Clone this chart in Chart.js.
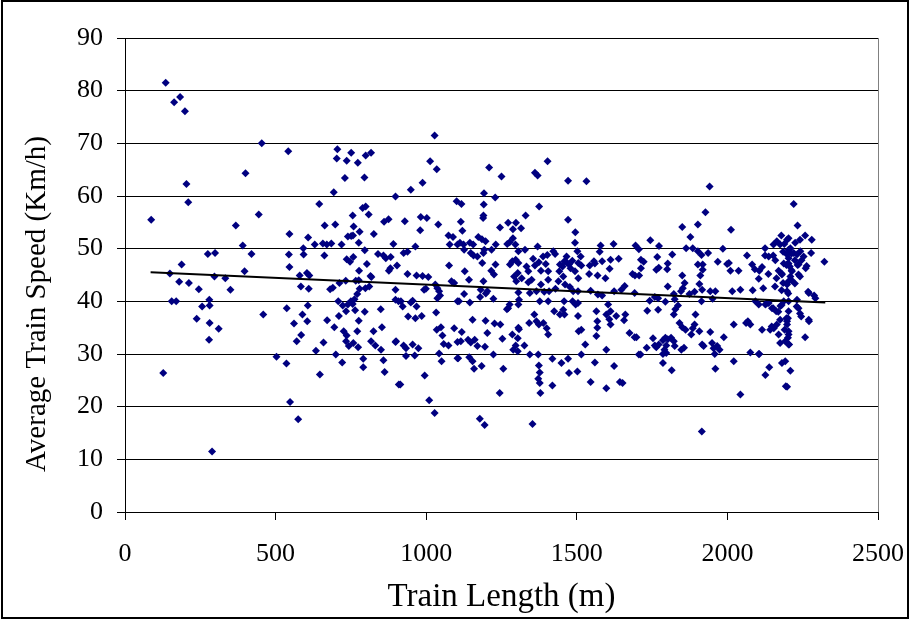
<!DOCTYPE html>
<html>
<head>
<meta charset="utf-8">
<script src="https://cdn.jsdelivr.net/npm/chart.js@4/dist/chart.umd.min.js"></script>
<style>
  html, body { margin: 0; padding: 0; background: #ffffff; }
  #wrap { width: 911px; height: 620px; position: relative; }
</style>
</head>
<body>
<div id="wrap"><canvas id="c" width="911" height="620"></canvas></div>
<script>
// Observations: [train length (m), average train speed (km/h)]
const observations = [
  [135,81.5],[183,78.8],[163,77.8],[199,76.1],[454,70],[400,64.3],[204,62.3],[210,58.8],[87,55.5],[444,56.5],
  [368,54.4],[391,50.6],[420,49],[275,49],[299,49.2],[188,47],[149,45.3],[397,45.7],[297,44.7],[333,44.4],
  [180,43.7],[212,43.5],[245,42.3],[350,42.2],[155,40],[170,40],[280,40.3],[256,39],[281,39.2],[459,37.5],
  [238,36.7],[281,35.9],[311,34.8],[279,32.7],[127,26.4],[289,11.5],
  [542,68.5],[705,68.9],[703,67.1],[693,60.7],[645,58.5],[663,54.4],[698,54.6],[546,52.8],[608,52.1],[592,50.1],
  [630,50.8],[657,51],[670,50.8],[685,51],[544,48.9],[593,48.9],[662,48.7],[546,46.5],[580,44.9],[604,45.4],
  [612,44.9],[584,42.8],[610,42.4],[681,42.3],[690,42.6],[537,38.7],[607,39.2],[589,37.5],[561,35.8],[605,36.2],
  [671,36.4],[585,33.6],[570,32.4],[659,32.2],[634,30.6],[503,29.5],[536,28.2],[647,26.1],[548,20.9],[575,17.6],
  [751,68.2],[736,66.7],[773,66.3],[799,67.7],[817,68.2],[730,63.4],[795,63.5],[898,59.9],[799,58],[789,57.7],
  [756,56.3],[809,56.5],[860,55.1],[875,55.6],[759,54.2],[779,53.2],[740,52.3],[751,52.4],[757,52.5],[826,52.8],
  [719,50.8],[776,51.1],[891,50.9],[796,49.7],[736,48],[747,47.5],[758,48.4],[840,49],[858,48.7],[866,48.2],
  [882,48.4],[803,47.1],[777,45.8],[903,46.8],[876,45.8],[881,46.3],[815,44.8],[712,43.5],[733,43.9],[766,43.9],
  [776,44],[818,44.6],[811,42.8],[798,42.5],[779,42.4],[771,41.4],[762,40.4],[756,39.5],[734,38.1],[723,39.2],
  [708,40],[740,39.4],[750,40],[710,37.2],[898,42.2],[898,40.3],[908,40],[764,38.3],[796,38],[849,38.5],
  [776,36.3],[695,35.1],[726,34.3],[736,33.5],[734,32.4],[743,31.5],[758,32.1],[774,31.3],[771,34.3],[825,34.3],
  [853,35.1],[817,32.4],[831,31.6],[850,30.8],[898,32.3],[700,29.9],[721,28.4],[791,29.1],[791,27.5],[858,28.8],
  [862,26.6],[909,24.2],
  [1028,71.5],[1013,66.6],[1035,65.1],[988,62.5],[949,61.2],[1101,59],[929,55.2],[982,56],[1002,55.8],[980,53.5],
  [1040,54.6],[1074,52.5],[1089,52.2],[1078,50.8],[1104,50.8],[925,49.2],[938,49.4],[964,50.4],[1076,46.8],[938,45.2],
  [968,44.9],[988,44.8],[1007,44.6],[1084,43.8],[1093,43.5],[999,42.4],[993,42.2],[1030,43.2],[1037,42.5],[1043,41.9],
  [1046,41.1],[1037,40.6],[1104,40],[916,40],[922,39],[949,39.8],[955,40.1],[968,39],[940,37.1],[964,36.8],
  [985,37.2],[1033,37.9],[1035,34.6],[1049,35.1],[1054,33.5],[1093,34.9],[1104,32.3],[900,32.4],[925,31.6],[933,31.1],
  [955,31.8],[974,31.1],[1058,31.9],[1074,31.6],[933,29.6],[962,29.7],[1043,30.1],[1051,28.6],[1104,29.2],[995,25.9],
  [914,24.2],[1010,21.2],[1028,18.8],
  [1209,65.4],[1250,63.7],[1192,60.5],[1229,59.7],[1117,58.5],[1191,58.4],[1190,56.3],[1189,55.8],[1115,55.1],[1120,53.4],
  [1245,54],[1272,54.9],[1298,54.9],[1288,53.7],[1112,51.1],[1124,50.8],[1145,51.1],[1156,50.8],[1173,52.2],[1185,51.8],
  [1197,51.4],[1277,51.2],[1269,50.9],[1288,52],[1296,50.8],[1126,49.8],[1148,49.2],[1157,48.7],[1170,48.5],[1190,49.2],
  [1193,49.8],[1217,49.8],[1231,50.8],[1186,47.3],[1216,45.8],[1230,47],[1225,45.1],[1278,47],[1286,47.6],[1297,47.9],
  [1306,47.3],[1292,44.7],[1299,43.8],[1128,45.7],[1142,44.1],[1190,43.8],[1203,41.9],[1198,41.5],[1179,40.8],[1181,42.2],
  [1223,40.5],[1126,41.4],[1109,40],[1145,39.8],[1154,36.5],[1197,36.3],[1227,35.8],[1246,35.6],[1272,38.7],[1268,38.5],
  [1277,39.4],[1306,41.7],[1306,39.4],[1306,35],[1118,34.2],[1115,32.4],[1139,32.7],[1148,32.2],[1161,32.7],[1170,31.5],
  [1195,31.4],[1203,34],[1223,29.9],[1253,32.9],[1286,33.7],[1297,31.6],[1289,30.8],[1106,29.2],[1143,29.4],[1154,28.6],
  [1159,27.2],[1184,27.7],[1256,27.2],[1244,22.6],[1178,17.7],[1194,16.5],
  [1403,66.6],[1361,64.4],[1370,63.9],[1471,62.9],[1375,58],[1330,56.3],[1315,53.9],[1471,55.5],[1495,53.1],[1494,51.1],
  [1370,50.4],[1328,49.8],[1306,49.5],[1422,49.5],[1428,49],[1466,48.5],[1459,47.6],[1502,49.5],[1355,48.1],[1388,48.5],
  [1402,48.8],[1374,47.4],[1397,47.1],[1333,46.6],[1361,46.8],[1339,45.7],[1381,45.8],[1405,45.7],[1304,45.4],[1444,47],
  [1453,46.6],[1466,47.4],[1474,47],[1479,46.3],[1485,47.7],[1494,45.7],[1505,47.3],[1442,45.7],[1455,44.7],[1439,43.8],
  [1461,43.2],[1477,42.7],[1488,41.9],[1505,44.4],[1317,44.4],[1339,43.6],[1350,44.1],[1366,41.9],[1381,43.2],[1405,44.1],
  [1408,41.9],[1392,41.8],[1429,42.4],[1308,40.3],[1344,41.6],[1377,40],[1405,40],[1425,38.1],[1444,37.5],[1458,40],
  [1459,37.5],[1486,40],[1496,39.4],[1359,37.5],[1342,35.9],[1366,36.2],[1374,35.6],[1389,35.9],[1400,34.9],[1405,33.7],
  [1455,38.4],[1504,37.2],[1308,34.7],[1304,33],[1326,31.6],[1304,30.5],[1344,29.9],[1372,29.9],[1419,29.1],[1449,28.3],
  [1471,29.1],[1502,26.7],[1474,26.4],[1374,27.8],[1377,26.5],[1372,25.3],[1377,24.5],[1379,22.6],[1419,24],[1353,16.7],
  [1532,62.8],[1513,48.5],[1515,46.8],[1579,50.6],[1576,49.4],[1622,50.9],[1695,50.6],[1706,49.9],[1557,47.6],[1584,47.6],
  [1560,47.2],[1543,46.8],[1541,45.2],[1569,44.9],[1595,44.4],[1609,46.2],[1612,47.9],[1639,48.1],[1713,47.9],[1713,46.3],
  [1685,45.2],[1693,44.9],[1707,44.9],[1504,41.9],[1546,42],[1570,41.3],[1584,41.1],[1624,41.9],[1648,42.2],[1659,42.9],
  [1504,39.7],[1506,34.3],[1515,34.6],[1565,38.1],[1568,36.2],[1568,35],[1565,33.4],[1604,39.4],[1598,37.5],[1612,38.1],
  [1608,36.6],[1612,35.6],[1631,37.2],[1661,37.5],[1657,36.4],[1675,34],[1692,33.2],[1528,31.8],[1515,29.9],[1598,30.8],
  [1706,29.9],[1560,28.4],[1624,27.7],[1546,24.7],[1598,23.5],[1643,24.7],[1652,24.5],
  [1850,54.1],[1902,54.6],[1877,52.2],[1863,50.1],[1885,50.1],[1902,49.5],[1902,47],[1744,51.6],[1773,50.5],[1817,48.9],
  [1767,48.4],[1764,46],[1772,46.4],[1802,47.2],[1800,46.1],[1722,47.5],[1850,44.9],[1858,43.5],[1907,43.3],[1802,42.8],
  [1846,41.9],[1852,42.5],[1874,41.4],[1891,41.8],[1822,41.4],[1692,41.6],[1742,40.1],[1759,40.8],[1770,40.6],[1794,39.9],
  [1734,38.2],[1770,38.4],[1825,40.4],[1836,39.2],[1827,38.5],[1822,37.5],[1841,35.9],[1850,35.1],[1861,34.6],[1891,35.6],
  [1880,33.7],[1907,34.3],[1885,34.9],[1698,33.2],[1753,33],[1759,31.6],[1764,31.3],[1772,31.8],[1786,32.6],[1794,33.1],
  [1802,32.8],[1797,31.6],[1813,33.1],[1822,32.4],[1791,30.8],[1786,30],[1797,30.2],[1825,31.5],[1847,30.8],[1856,31.2],
  [1732,31.2],[1712,29.9],[1786,28.3],[1815,26.9],[1915,15.3],
  [1941,61.8],[1927,56.9],[2012,53.6],[1914,48.8],[1936,49.2],[1985,50],[1999,47.1],[2005,47.3],[1968,47.5],[2010,45.8],
  [2037,45.8],[2065,48.7],[2082,47],[2091,46.1],[2104,44.3],[1918,47],[1918,46],[1910,44.9],[1916,42.2],[1943,41.9],
  [1960,41.9],[1951,40.5],[1914,40],[2043,42.2],[2084,42.1],[2093,40],[2016,41.9],[1894,37.5],[2021,35.6],[2062,35.9],
  [2068,36.2],[2076,35.6],[1916,31.8],[1921,31.5],[1949,32.1],[1954,31.1],[1966,31.5],[1974,30.8],[1988,33.2],[1943,34.2],
  [1958,30],[2076,30.3],[2104,30],[2021,28.6],[1960,27.2],[2043,22.3],
  [2179,52.5],[2198,51.7],[2125,50.1],[2153,50.8],[2164,51.4],[2175,50.8],[2189,50.9],[2203,49.8],[2198,48.9],[2137,48.5],
  [2159,47.8],[2187,47.2],[2106,45.8],[2115,46.5],[2170,45.8],[2181,45.1],[2203,47.2],[2137,39.7],[2148,38.7],[2162,38.1],
  [2176,39.1],[2187,40],[2203,40],[2104,39.4],[2126,39.4],[2115,34.6],[2142,34.6],[2154,34.9],[2164,35.6],[2175,36.5],
  [2198,36.2],[2190,34.6],[2170,33.7],[2203,33.7],[2192,32.4],[2175,32.1],[2203,31.8],[2106,30],[2181,28.3],[2139,27.5],
  [2126,26],[2194,23.9],
  [2220,58.5],[2233,54.4],[2258,52.5],[2280,51.7],[2203,52],[2225,51.1],[2241,51.7],[2209,50.1],[2220,49.2],[2242,49.5],
  [2278,49.2],[2203,48.2],[2231,48.9],[2253,48.5],[2322,47.5],[2260,46.3],[2236,47],[2198,47],[2214,45.7],[2236,45.1],
  [2209,44.7],[2203,43.8],[2198,43.2],[2198,41.9],[2270,41.6],[2292,40.6],[2231,40.3],[2236,38.7],[2245,37.1],[2271,36.2],
  [2203,38.1],[2201,36.8],[2198,35.6],[2203,34.3],[2201,33.1],[2205,31.8],[2258,33.2],[2192,28.6],[2209,26.8],[2198,23.8],
  [2125,48.7],[2152,48.7],[2185,49.4],[2213,49.1],[2224,47.8],[2196,46.9],[2207,46.6],[2233,46.9],[2213,45.9],[2246,47.8],
  [2263,46.7],[2136,45.2],[2163,44.4],[2180,45.3],[2185,43.5],[2213,44],[2241,44.7],[2224,43.4],[2119,42.5],[2158,42.8],
  [2180,42.1],[2202,41.5],[2268,41.8],[2288,41.1],[2130,39.6],[2152,38.7],[2169,38],[2180,39.3],[2230,39],[2241,37.7],
  [2196,36.8],[2147,35.2],[2270,36.5]
];

// Linear trend line end points
const trendLength = [85, 2325];
const trendSpeed = [45.5, 39.8];

const xTicks = [0, 500, 1000, 1500, 2000, 2500];
const yTicks = [0, 10, 20, 30, 40, 50, 60, 70, 80, 90];

const xTitle = 'Train Length (m)';
const yTitle = 'Average Train Speed (Km/h)';

const scatterData = observations.map(p => ({ x: p[0], y: p[1] }));
const trendData = trendLength.map((x, i) => ({ x: x, y: trendSpeed[i] }));

const SERIF = "'Liberation Serif', 'Times New Roman', serif";

const framePlugin = {
  id: 'frame',
  afterDraw(chart) {
    const ctx = chart.ctx;
    const a = chart.chartArea;
    ctx.save();
    ctx.strokeStyle = '#808080';
    ctx.lineWidth = 1;
    ctx.beginPath();
    ctx.moveTo(a.right + 0.5, a.top);
    ctx.lineTo(a.right + 0.5, a.bottom);
    ctx.stroke();
    ctx.strokeStyle = '#000000';
    ctx.lineWidth = 2;
    ctx.strokeRect(2, 1, 906, 617);
    ctx.restore();
  }
};

new Chart(document.getElementById('c'), {
  type: 'scatter',
  data: {
    datasets: [
      {
        type: 'line',
        label: 'Trend',
        data: trendData,
        borderColor: '#000000',
        borderWidth: 2,
        pointRadius: 0,
        fill: false,
        order: 0
      },
      {
        label: 'Trains',
        data: scatterData,
        pointStyle: 'rectRot',
        pointRadius: 4,
        pointBackgroundColor: '#000080',
        pointBorderColor: '#000080',
        pointBorderWidth: 0,
        showLine: false,
        order: 1
      }
    ]
  },
  options: {
    responsive: false,
    devicePixelRatio: 1,
    animation: false,
    layout: { padding: { left: 0, top: 38, right: 33, bottom: 0 } },
    plugins: {
      legend: { display: false },
      tooltip: { enabled: false }
    },
    scales: {
      x: {
        type: 'linear',
        min: xTicks[0],
        max: xTicks[xTicks.length - 1],
        afterBuildTicks: s => { s.ticks = xTicks.map(v => ({ value: v })); },
        afterFit: s => { s.height = 108; s.paddingLeft = 0; s.paddingRight = 0; },
        ticks: {
          color: '#000000',
          padding: 19,
          maxRotation: 0,
          font: { family: SERIF, size: 26 },
          callback: v => String(v)
        },
        grid: {
          drawOnChartArea: false,
          drawTicks: true,
          tickLength: 8,
          color: '#000000'
        },
        border: { color: '#000000', width: 1 },
        title: {
          display: true,
          text: xTitle,
          color: '#000000',
          font: { family: SERIF, size: 33 },
          padding: { top: 0, bottom: 3 }
        }
      },
      y: {
        type: 'linear',
        min: yTicks[0],
        max: yTicks[yTicks.length - 1],
        afterBuildTicks: s => { s.ticks = yTicks.map(v => ({ value: v })); },
        afterFit: s => { s.width = 125; s.paddingTop = 0; s.paddingBottom = 0; },
        ticks: {
          color: '#000000',
          padding: 14,
          font: { family: SERIF, size: 26 },
          callback: v => String(v)
        },
        grid: {
          drawOnChartArea: true,
          drawTicks: true,
          tickLength: 8,
          color: '#000000',
          lineWidth: 1
        },
        border: { color: '#000000', width: 1 },
        title: {
          display: true,
          text: yTitle + '        ',
          color: '#000000',
          font: { family: SERIF, size: 29 },
          padding: { top: 20, bottom: 0 }
        }
      }
    }
  },
  plugins: [framePlugin]
});
</script>
</body>
</html>
